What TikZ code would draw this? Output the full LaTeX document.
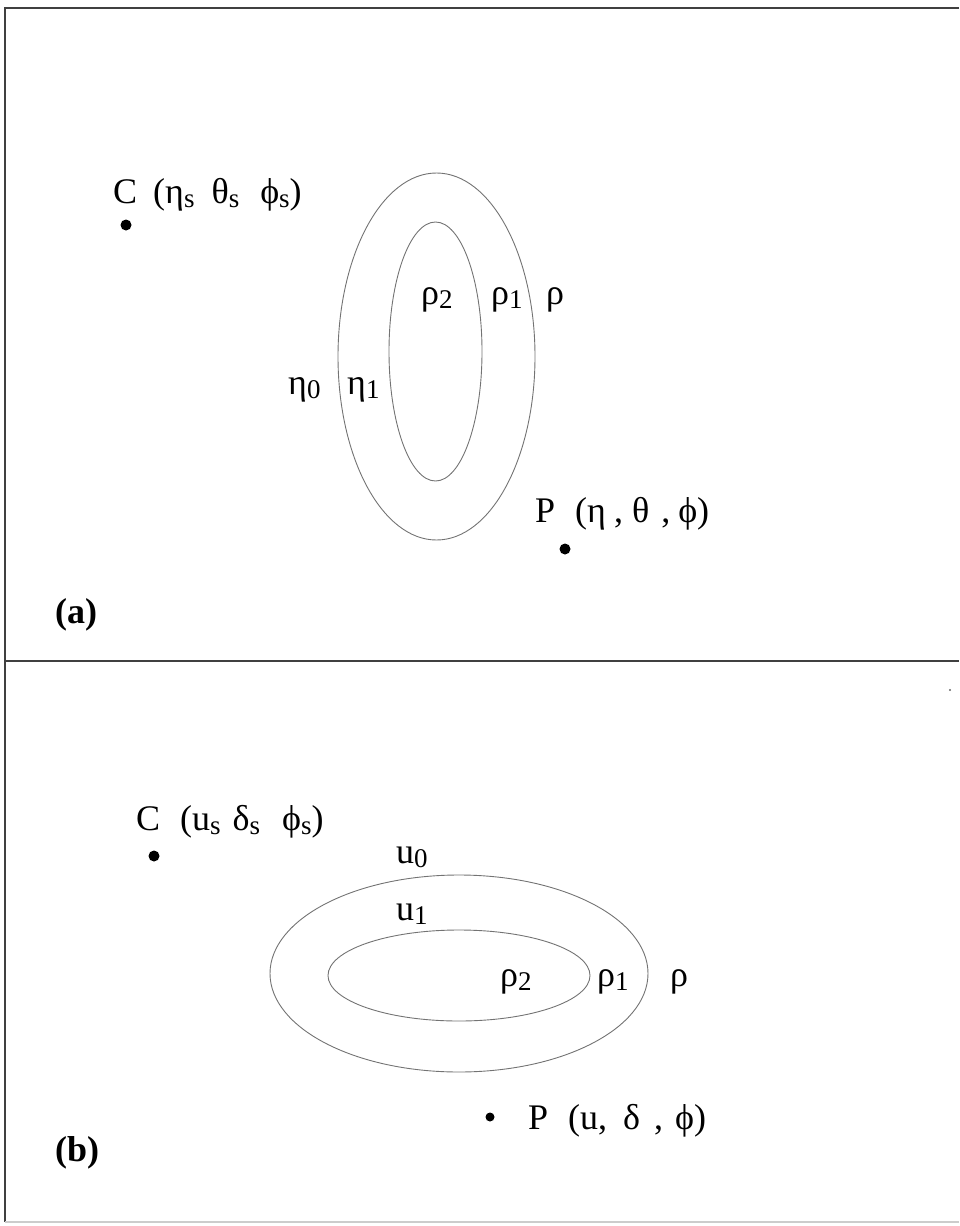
\documentclass[tikz,border=0pt]{standalone}
\usepackage{fontspec}
\setmainfont{Liberation Serif}
\newcommand{\sbs}[1]{\raisebox{-0.3ex}{\fontsize{27}{27}\selectfont #1}}
\newcommand{\hs}[1]{\hspace*{#1pt}}
\begin{document}
\begin{tikzpicture}[x=1pt,y=-1pt,
  frame/.style={draw=black!75,line width=2pt},
  curve/.style={draw=black!55,line width=0.9pt},
  lbl/.style={font=\fontsize{36}{38}\selectfont,inner sep=0pt,anchor=base west},
  tag/.style={font=\fontsize{36}{38}\selectfont\bfseries,inner sep=0pt,anchor=base west},
  dot/.style={circle,fill=black,inner sep=0pt,minimum size=11pt}]
\useasboundingbox (0,0) rectangle (959,1226);
% frame
\coordinate (tl) at (5,8); \coordinate (tr) at (959,8);
\coordinate (ml) at (5,661); \coordinate (mr) at (959,661);
\coordinate (bl) at (5,1222); \coordinate (br) at (959,1222);
\draw[frame] (tr) -- (tl) -- (bl);
\draw[frame] (ml) -- (mr);
\draw[draw=black!20,line width=1.5pt] (bl) -- (br);
% panel (a)
\draw[curve] (436.5,356.5) ellipse [x radius=98.5, y radius=183.5];
\draw[curve] (435.5,351.5) ellipse [x radius=46.5, y radius=129.5];
\node[dot] (Ca) at (126,225) {};
\node[lbl] (Cal) at (113,203) {C\hs{16}(η\sbs{s}\hs{17}θ\sbs{s}\hs{21}ϕ\sbs{s})};
\node[lbl] (r2a) at (421,304) {ρ\sbs{2}};
\node[lbl] (r1a) at (491,304) {ρ\sbs{1}};
\node[lbl] (ra) at (546,304) {ρ};
\node[lbl] (e0) at (288,394) {η\sbs{0}};
\node[lbl] (e1) at (347,394) {η\sbs{1}};
\node[dot] (Pa) at (565,549) {};
\node[lbl] (Pal) at (535,522) {P\hs{20}(η\hs{8},\hs{9}θ\hs{12},\hs{8}ϕ)};
\node[tag] (a) at (55,623) {(a)};
% panel (b)
\draw[curve] (459,973.5) ellipse [x radius=189, y radius=98.5];
\draw[curve] (459,975.5) ellipse [x radius=131, y radius=45.5];
\node[dot] (Cb) at (154,856) {};
\node[lbl] (Cbl) at (136,830) {C\hs{20}(u\sbs{s}\hs{12}δ\sbs{s}\hs{22}ϕ\sbs{s})};
\node[lbl] (u0) at (396,863) {u\sbs{0}};
\node[lbl] (u1) at (396,920) {u\sbs{1}};
\node[lbl] (r2b) at (500,986) {ρ\sbs{2}};
\node[lbl] (r1b) at (597,986) {ρ\sbs{1}};
\node[lbl] (rb) at (670,986) {ρ};
\node[dot,minimum size=9pt] (Pb) at (490,1117) {};
\node[lbl] (Pbl) at (528,1129) {P\hs{20}(u,\hs{16}δ\hs{14},\hs{12}ϕ)};
\node[tag] (b) at (55,1161) {(b)};
\fill[black!60] (950,690) circle (1.2pt);
\end{tikzpicture}
\end{document}
